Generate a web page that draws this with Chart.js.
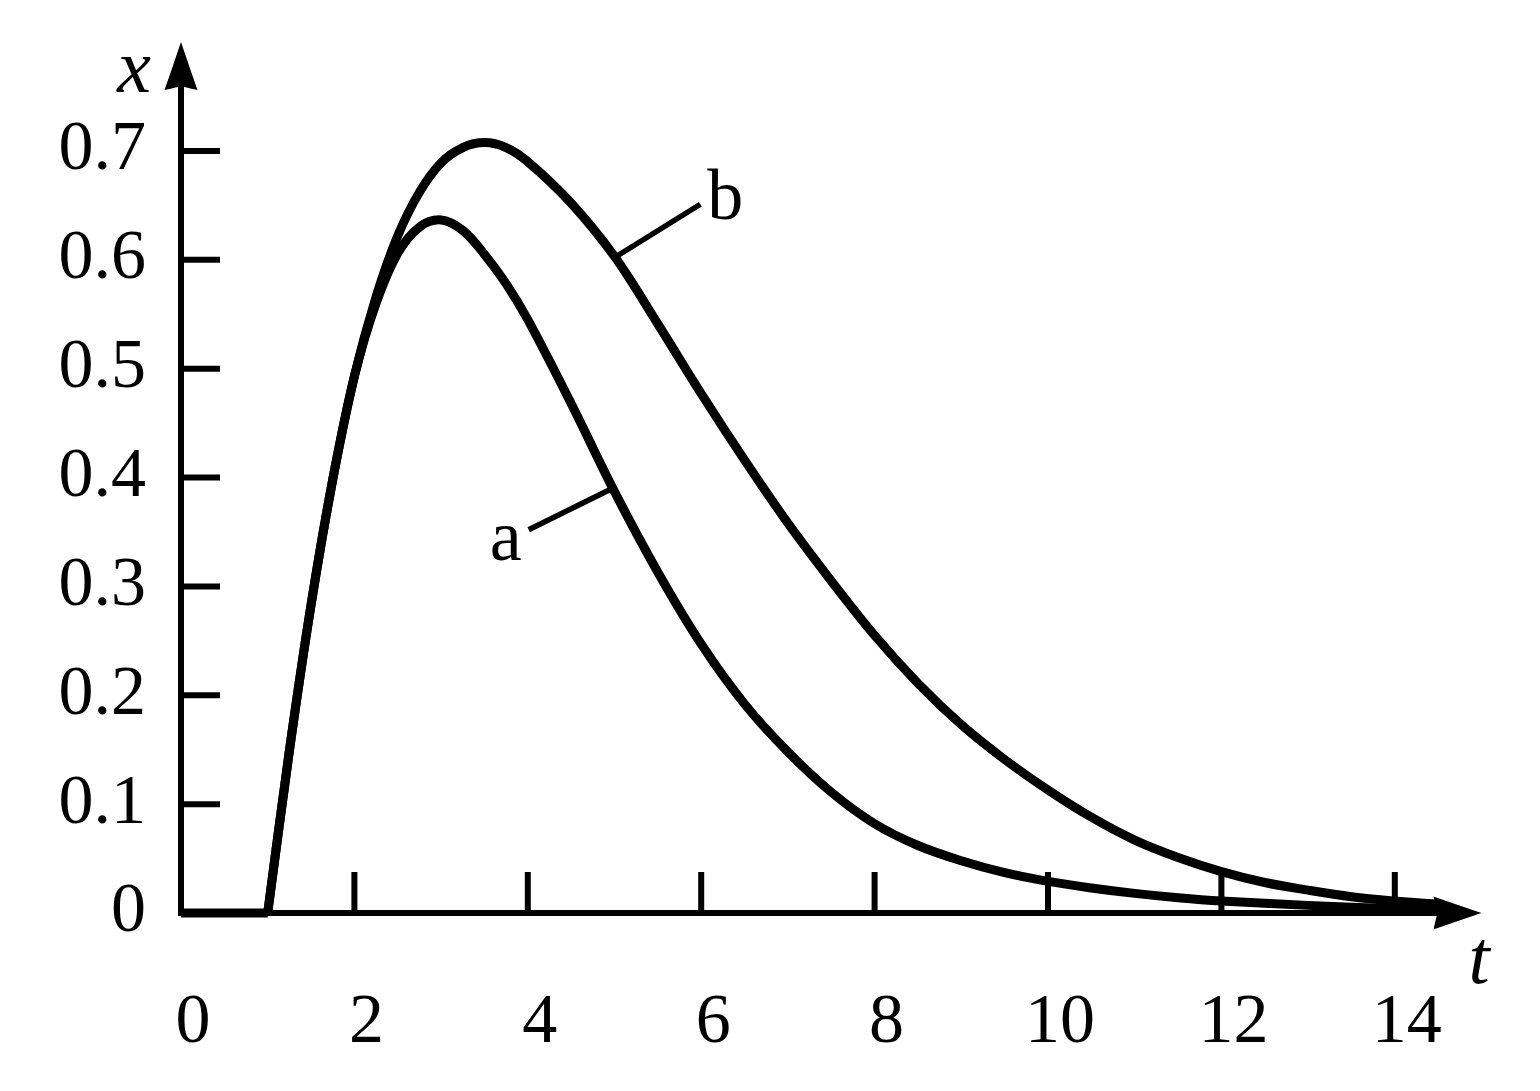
<!DOCTYPE html>
<html><head><meta charset="utf-8">
<script src="https://cdn.jsdelivr.net/npm/chart.js@4.4.1/dist/chart.umd.min.js"></script>
<style>html,body{margin:0;padding:0;background:#fff}#wrap{width:1540px;height:1091px}</style>
</head><body><div id="wrap"><canvas id="c" width="1540" height="1091"></canvas></div>
<script>
// ---- data ----
const leadT = [0, 1];
const leadX = [0, 0];

const tA = [1, 1.25, 1.5, 1.75, 2, 2.25, 2.5, 2.75, 3, 3.25, 3.5, 3.75, 4, 4.5, 5, 5.5, 6, 6.5, 7, 7.5, 8, 8.5, 9, 9.5, 10, 10.5, 11, 11.5, 12, 13, 14, 14.5];
const xA = [0, 0.149, 0.283, 0.398, 0.493, 0.560, 0.606, 0.630, 0.6366, 0.627, 0.605, 0.578, 0.545, 0.468, 0.387, 0.313, 0.247, 0.192, 0.148, 0.111, 0.082, 0.062, 0.048, 0.037, 0.029, 0.023, 0.018, 0.014, 0.011, 0.007, 0.004, 0.003];

const tB = [1, 1.25, 1.5, 1.75, 2, 2.25, 2.5, 2.75, 3, 3.25, 3.5, 3.75, 4, 4.5, 5, 5.5, 6, 6.5, 7, 7.5, 8, 8.5, 9, 9.5, 10, 10.5, 11, 11.5, 12, 12.5, 13, 13.5, 14, 14.5];
const xB = [0, 0.149, 0.283, 0.398, 0.493, 0.566, 0.622, 0.662, 0.689, 0.703, 0.7076, 0.703, 0.690, 0.652, 0.603, 0.541, 0.477, 0.416, 0.358, 0.305, 0.255, 0.211, 0.173, 0.141, 0.113, 0.088, 0.067, 0.051, 0.038, 0.028, 0.021, 0.015, 0.011, 0.008];

const xTicks = [0, 2, 4, 6, 8, 10, 12, 14];
const xTickLabels = ['0', '2', '4', '6', '8', '10', '12', '14'];
const yTicks = [0, 0.1, 0.2, 0.3, 0.4, 0.5, 0.6, 0.7];
const yTickLabels = ['0', '0.1', '0.2', '0.3', '0.4', '0.5', '0.6', '0.7'];

// curve labels and their leader lines (data coordinates)
const curveNames = ['a', 'b'];
const leaderAT = [4.01, 4.95];
const leaderAX = [0.352, 0.389];
const leaderBT = [5.02, 5.99];
const leaderBX = [0.603, 0.651];
const nameT = [3.56, 6.07];
const nameX = [0.324, 0.637];

const axisTitleX = 'x';
const axisTitleT = 't';

// ---- chart ----
const FONT = "'Liberation Serif', 'Times New Roman', serif";
const pts = (ts, vs) => ts.map((t, i) => ({x: t, y: vs[i]}));
const curveStyle = {borderColor: '#000', borderWidth: 9, pointRadius: 0, fill: false, tension: 0.35, clip: false, borderJoinStyle: 'round'};
const leaderStyle = {borderColor: '#000', borderWidth: 5.5, pointRadius: 0, fill: false, tension: 0, clip: false};

const decor = {
  id: 'decor',
  beforeDatasetsDraw(chart) {
    const ctx = chart.ctx;
    const xs = chart.scales.x, ys = chart.scales.y;
    const x0 = xs.getPixelForValue(0), y0 = ys.getPixelForValue(0);
    const xEnd = xs.getPixelForValue(xs.max), yEnd = ys.getPixelForValue(ys.max);
    ctx.save();
    ctx.strokeStyle = '#000';
    ctx.fillStyle = '#000';
    ctx.lineWidth = 6;
    ctx.lineCap = 'butt';
    // axes
    ctx.beginPath();
    ctx.moveTo(x0 - 3, y0); ctx.lineTo(xEnd - 40, y0);
    ctx.moveTo(x0, y0 + 3); ctx.lineTo(x0, yEnd + 40);
    ctx.stroke();
    // tick marks (inside)
    ctx.beginPath();
    xTicks.forEach(v => { if (v === 0) return; const p = xs.getPixelForValue(v); ctx.moveTo(p, y0); ctx.lineTo(p, y0 - 41); });
    yTicks.forEach(v => { if (v === 0) return; const p = ys.getPixelForValue(v); ctx.moveTo(x0, p); ctx.lineTo(x0 + 39, p); });
    ctx.stroke();
    // arrowheads
    const L = 51, W = 17.5, N = 7;
    const arrow = (tx, ty, ang) => {
      ctx.save();
      ctx.translate(tx, ty); ctx.rotate(ang);
      ctx.beginPath();
      ctx.moveTo(0, 0);
      ctx.quadraticCurveTo(-L * 0.5, -W * 0.49, -L, -W);
      ctx.lineTo(-L + 3, -W + 1);
      ctx.quadraticCurveTo(-L + N - 1, -3, -L + N, 0);
      ctx.quadraticCurveTo(-L + N - 1, 3, -L + 3, W - 1);
      ctx.lineTo(-L, W);
      ctx.quadraticCurveTo(-L * 0.5, W * 0.49, 0, 0);
      ctx.closePath();
      ctx.fill();
      ctx.restore();
    };
    arrow(xEnd, y0, 0);
    arrow(x0, yEnd, -Math.PI / 2);
    ctx.restore();
  },
  afterDatasetsDraw(chart) {
    const ctx = chart.ctx;
    const xs = chart.scales.x, ys = chart.scales.y;
    const x0 = xs.getPixelForValue(0), y0 = ys.getPixelForValue(0);
    const xEnd = xs.getPixelForValue(xs.max), yEnd = ys.getPixelForValue(ys.max);
    ctx.save();
    ctx.fillStyle = '#000';
    ctx.textBaseline = 'alphabetic';
    ctx.textAlign = 'left';
    ctx.font = '72px ' + FONT;
    curveNames.forEach((n, i) => {
      ctx.fillText(n, xs.getPixelForValue(nameT[i]), ys.getPixelForValue(nameX[i]));
    });
    ctx.font = 'italic 76px ' + FONT;
    ctx.textAlign = 'right';
    ctx.fillText(axisTitleX, x0 - 30, yEnd + 50);
    ctx.textAlign = 'left';
    ctx.fillText(axisTitleT, xEnd - 13, y0 + 70);
    ctx.restore();
  }
};

new Chart(document.getElementById('c'), {
  type: 'line',
  data: {
    datasets: [
      Object.assign({label: 'lead', data: pts(leadT, leadX)}, leaderStyle, {borderWidth: 9}),
      Object.assign({label: 'a', data: pts(tA, xA)}, curveStyle),
      Object.assign({label: 'b', data: pts(tB, xB)}, curveStyle),
      Object.assign({label: 'leader a', data: pts(leaderAT, leaderAX)}, leaderStyle),
      Object.assign({label: 'leader b', data: pts(leaderBT, leaderBX)}, leaderStyle)
    ]
  },
  options: {
    responsive: false,
    animation: false,
    devicePixelRatio: 1,
    layout: {padding: {left: 0, right: 58.5, top: 42, bottom: 0}},
    plugins: {legend: {display: false}, tooltip: {enabled: false}},
    scales: {
      x: {
        type: 'linear', min: 0, max: 15,
        border: {display: false},
        grid: {display: false},
        afterBuildTicks: s => { s.ticks = xTicks.map(v => ({value: v})); },
        afterFit: s => { s.height = 178; s.paddingLeft = 0; s.paddingRight = 0; },
        ticks: {
          autoSkip: false, maxRotation: 0, minRotation: 0,
          padding: 61, labelOffset: 12, color: '#000',
          font: {family: FONT, size: 70},
          callback: v => { const i = xTicks.indexOf(v); return i >= 0 ? xTickLabels[i] : ''; }
        }
      },
      y: {
        type: 'linear', min: 0, max: 0.8,
        border: {display: false},
        grid: {display: false},
        afterBuildTicks: s => { s.ticks = yTicks.map(v => ({value: v})); },
        afterFit: s => { s.width = 181; s.paddingTop = 0; s.paddingBottom = 0; },
        ticks: {
          autoSkip: false, padding: 27, color: '#000',
          font: {family: FONT, size: 70},
          callback: v => { const i = yTicks.findIndex(q => Math.abs(q - v) < 1e-9); return i >= 0 ? yTickLabels[i] : ''; }
        }
      }
    }
  },
  plugins: [decor]
});
</script>
</body></html>
